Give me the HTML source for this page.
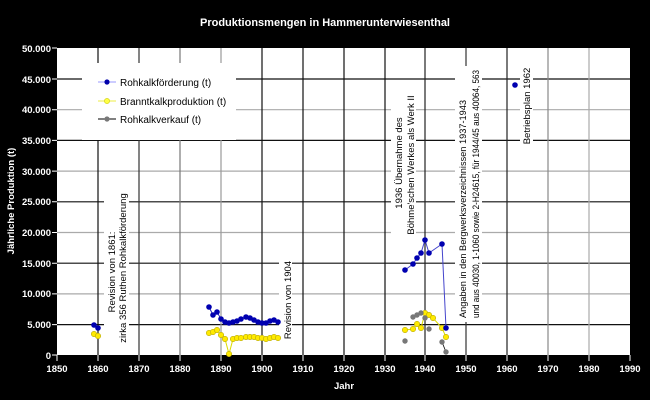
<!DOCTYPE html>
<html><head><meta charset="utf-8"><style>html,body{margin:0;padding:0;background:#000;}svg{display:block}</style></head>
<body>
<svg width="650" height="400" viewBox="0 0 650 400" xmlns="http://www.w3.org/2000/svg" font-family="Liberation Sans, Arial, sans-serif">
<rect width="650" height="400" fill="#000"/>
<text x="325" y="26" fill="#fff" font-size="11" font-weight="bold" text-anchor="middle">Produktionsmengen in Hammerunterwiesenthal</text>
<rect x="57" y="48" width="573" height="307" fill="#fff"/>
<g id="grid" stroke-width="1.2">
<line x1="57" x2="630" y1="79" y2="79" stroke="#111"/>
<line x1="57" x2="630" y1="109.7" y2="109.7" stroke="#aaa"/>
<line x1="57" x2="630" y1="140.4" y2="140.4" stroke="#111"/>
<line x1="57" x2="630" y1="171.1" y2="171.1" stroke="#aaa"/>
<line x1="57" x2="630" y1="201.8" y2="201.8" stroke="#111"/>
<line x1="57" x2="630" y1="232.5" y2="232.5" stroke="#aaa"/>
<line x1="57" x2="630" y1="263.2" y2="263.2" stroke="#111"/>
<line x1="57" x2="630" y1="293.9" y2="293.9" stroke="#aaa"/>
<line x1="57" x2="630" y1="324.6" y2="324.6" stroke="#111"/>
<line y1="48" y2="355" x1="98" x2="98" stroke="#111"/>
<line y1="48" y2="355" x1="139" x2="139" stroke="#333"/>
<line y1="48" y2="355" x1="180" x2="180" stroke="#777"/>
<line y1="48" y2="355" x1="221" x2="221" stroke="#999"/>
<line y1="48" y2="355" x1="262" x2="262" stroke="#111"/>
<line y1="48" y2="355" x1="303" x2="303" stroke="#111"/>
<line y1="48" y2="355" x1="344" x2="344" stroke="#111"/>
<line y1="48" y2="355" x1="385" x2="385" stroke="#111"/>
<line y1="48" y2="355" x1="425" x2="425" stroke="#222"/>
<line y1="48" y2="355" x1="466" x2="466" stroke="#333"/>
<line y1="48" y2="355" x1="507" x2="507" stroke="#222"/>
<line y1="48" y2="355" x1="548" x2="548" stroke="#888"/>
<line y1="48" y2="355" x1="589" x2="589" stroke="#aaa"/>
</g>
<rect x="82" y="63" width="154" height="77" fill="#fff"/>
<line x1="98" x2="116" y1="82" y2="82" stroke="#99f" stroke-width="1"/>
<circle cx="107" cy="82" r="2.6" fill="#00a"/>
<text x="120" y="86" font-size="10" fill="#000">Rohkalkförderung (t)</text>
<line x1="98" x2="116" y1="101" y2="101" stroke="#ee4" stroke-width="1"/>
<circle cx="107" cy="101" r="2.6" fill="#ff4" stroke="#cc0" stroke-width="0.6"/>
<text x="120" y="105" font-size="10" fill="#000">Branntkalkproduktion (t)</text>
<line x1="98" x2="116" y1="119" y2="119" stroke="#000" stroke-width="1"/>
<circle cx="107" cy="119" r="2.6" fill="#777"/>
<text x="120" y="123" font-size="10" fill="#000">Rohkalkverkauf (t)</text>
<g font-size="9.5" fill="#000">
<rect x="104" y="195" width="25" height="147" fill="#fff"/>
<text transform="translate(115,272) rotate(-90)" text-anchor="middle">Revision von 1861:</text>
<text transform="translate(126,268) rotate(-90)" text-anchor="middle">zirka 356 Ruthen Rohkalkförderung</text>
<rect x="279" y="261" width="13" height="78" fill="#fff"/>
<text transform="translate(291,300) rotate(-90)" text-anchor="middle">Revision von 1904</text>
<rect x="391" y="95" width="25" height="140" fill="#fff"/>
<text transform="translate(402,163) rotate(-90)" text-anchor="middle">1936 Übernahme des</text>
<text transform="translate(414,165) rotate(-90)" text-anchor="middle">Böhme'schen Werkes als Werk II</text>
<rect x="455" y="66" width="27" height="256" fill="#fff"/>
<text transform="translate(466,318) rotate(-90)" textLength="218" lengthAdjust="spacingAndGlyphs">Angaben in den Bergwerksverzeichnissen 1937-1943</text>
<text transform="translate(479,318) rotate(-90)" textLength="248" lengthAdjust="spacingAndGlyphs">und aus 40030, 1-1060 sowie 2-H24615, für 1944/45 aus 40064, 563</text>
<rect x="520" y="68" width="13" height="76" fill="#fff"/>
<text transform="translate(530,106) rotate(-90)" text-anchor="middle">Betriebsplan 1962</text>
</g>
<g id="yellow">
<polyline fill="none" stroke="#dd0" stroke-width="1" points="94,334 98,336"/>
<polyline fill="none" stroke="#dd0" stroke-width="1" points="209,333 213,332 217,330 221,335 225,339 229,354 233,339 237,338 241,338 246,337 250,337 254,337 258,338 262,338 266,339 270,338 274,337 278,338"/>
<polyline fill="none" stroke="#dd0" stroke-width="1" points="405,330 413,329 417,324 421,328 425,313 429,315 433,318 442,328 446,337"/>
<g fill="#ffea00" stroke="#b8a800" stroke-width="0.6">
<circle cx="94" cy="334" r="2.7"/><circle cx="98" cy="336" r="2.7"/>
<circle cx="209" cy="333" r="2.7"/><circle cx="213" cy="332" r="2.7"/><circle cx="217" cy="330" r="2.7"/><circle cx="221" cy="335" r="2.7"/><circle cx="225" cy="339" r="2.7"/><circle cx="229" cy="354" r="2.7"/><circle cx="233" cy="339" r="2.7"/><circle cx="237" cy="338" r="2.7"/><circle cx="241" cy="338" r="2.7"/><circle cx="246" cy="337" r="2.7"/><circle cx="250" cy="337" r="2.7"/><circle cx="254" cy="337" r="2.7"/><circle cx="258" cy="338" r="2.7"/><circle cx="262" cy="338" r="2.7"/><circle cx="266" cy="339" r="2.7"/><circle cx="270" cy="338" r="2.7"/><circle cx="274" cy="337" r="2.7"/><circle cx="278" cy="338" r="2.7"/>
<circle cx="405" cy="330" r="2.7"/><circle cx="413" cy="329" r="2.7"/><circle cx="417" cy="324" r="2.7"/><circle cx="421" cy="328" r="2.7"/><circle cx="425" cy="313" r="2.7"/><circle cx="429" cy="315" r="2.7"/><circle cx="433" cy="318" r="2.7"/><circle cx="442" cy="328" r="2.7"/><circle cx="446" cy="337" r="2.7"/>
</g></g>
<g id="gray">
<polyline fill="none" stroke="#000" stroke-width="0.8" points="442,342 446,352"/>
<g fill="#777">
<circle cx="405" cy="341" r="2.7"/><circle cx="413" cy="317" r="2.7"/><circle cx="417" cy="315" r="2.7"/><circle cx="421" cy="313" r="2.7"/><circle cx="425" cy="318" r="2.7"/><circle cx="429" cy="329" r="2.7"/><circle cx="442" cy="342" r="2.7"/><circle cx="446" cy="352" r="2.7"/>
</g></g>
<g id="blue">
<polyline fill="none" stroke="#33c" stroke-width="1" points="94,325 98,328"/>
<polyline fill="none" stroke="#22b" stroke-width="1" points="209,307 213,315 217,312 221,319 225,322 229,323 233,322 237,321 241,319 246,317 250,318 254,320 258,322 262,323 266,323 270,321 274,320 278,322"/>
<polyline fill="none" stroke="#44c" stroke-width="1" points="405,270 413,264 417,258 421,253 425,240 429,253 442,244 446,328"/>
<g fill="#0000b0">
<circle cx="94" cy="325" r="2.8"/><circle cx="98" cy="328" r="2.8"/>
<circle cx="209" cy="307" r="2.8"/><circle cx="213" cy="315" r="2.8"/><circle cx="217" cy="312" r="2.8"/><circle cx="221" cy="319" r="2.8"/><circle cx="225" cy="322" r="2.8"/><circle cx="229" cy="323" r="2.8"/><circle cx="233" cy="322" r="2.8"/><circle cx="237" cy="321" r="2.8"/><circle cx="241" cy="319" r="2.8"/><circle cx="246" cy="317" r="2.8"/><circle cx="250" cy="318" r="2.8"/><circle cx="254" cy="320" r="2.8"/><circle cx="258" cy="322" r="2.8"/><circle cx="262" cy="323" r="2.8"/><circle cx="266" cy="323" r="2.8"/><circle cx="270" cy="321" r="2.8"/><circle cx="274" cy="320" r="2.8"/><circle cx="278" cy="322" r="2.8"/>
<circle cx="405" cy="270" r="2.8"/><circle cx="413" cy="264" r="2.8"/><circle cx="417" cy="258" r="2.8"/><circle cx="421" cy="253" r="2.8"/><circle cx="425" cy="240" r="2.8"/><circle cx="429" cy="253" r="2.8"/><circle cx="442" cy="244" r="2.8"/><circle cx="446" cy="328" r="2.8"/>
<circle cx="515" cy="85" r="2.8"/>
</g></g>
<g stroke="#fff" stroke-width="1">
<path d="M52 48H57M52 79H57M52 109.7H57M52 140.4H57M52 171.1H57M52 201.8H57M52 232.5H57M52 263.2H57M52 293.9H57M52 324.6H57M52 355H57"/>
<path d="M57 355V361M98 355V361M139 355V361M180 355V361M221 355V361M262 355V361M303 355V361M344 355V361M385 355V361M425 355V361M466 355V361M507 355V361M548 355V361M589 355V361M630 355V361"/>
</g>
<g fill="#fff" font-size="9.5" font-weight="bold" text-anchor="end">
<text x="51" y="52">50.000</text><text x="51" y="83">45.000</text><text x="51" y="113">40.000</text><text x="51" y="144">35.000</text><text x="51" y="175">30.000</text><text x="51" y="205">25.000</text><text x="51" y="236">20.000</text><text x="51" y="267">15.000</text><text x="51" y="297">10.000</text><text x="51" y="328">5.000</text><text x="51" y="359">0</text>
</g>
<g fill="#fff" font-size="9.5" font-weight="bold" text-anchor="middle">
<text x="57" y="372">1850</text><text x="98" y="372">1860</text><text x="139" y="372">1870</text><text x="180" y="372">1880</text><text x="221" y="372">1890</text><text x="262" y="372">1900</text><text x="303" y="372">1910</text><text x="344" y="372">1920</text><text x="385" y="372">1930</text><text x="425" y="372">1940</text><text x="466" y="372">1950</text><text x="507" y="372">1960</text><text x="548" y="372">1970</text><text x="589" y="372">1980</text><text x="630" y="372">1990</text>
<text x="344" y="389">Jahr</text>
<text transform="translate(14,201) rotate(-90)">Jährliche Produktion (t)</text>
</g>
</svg>
</body></html>
